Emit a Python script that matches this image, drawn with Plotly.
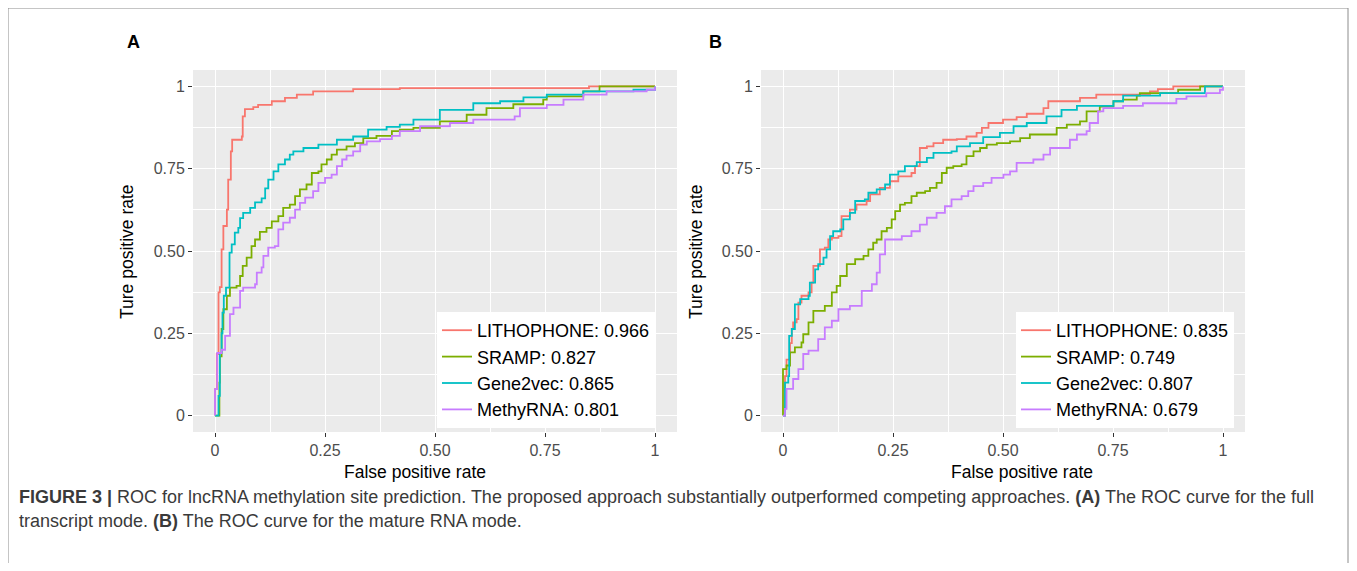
import plotly.graph_objects as go

# ---------------- data ----------------
MODELS = ["LITHOPHONE", "SRAMP", "Gene2vec", "MethyRNA"]
AUC_A = ["0.966", "0.827", "0.865", "0.801"]
AUC_B = ["0.835", "0.749", "0.807", "0.679"]
COLORS = ["#F8766D", "#7CAE00", "#00BFC4", "#C77CFF"]

TICK_VALS = [0, 0.25, 0.5, 0.75, 1]
TICK_TEXT = ["0", "0.25", "0.50", "0.75", "1"]

# Panel A: full transcript mode
A_LITHOPHONE_FPR = [0, 0, 0.004, 0.008, 0.011, 0.015, 0.019, 0.027, 0.030, 0.036, 0.039, 0.061, 0.063, 0.068, 0.087, 0.098, 0.129, 0.159, 0.186, 0.223, 0.314, 0.42, 0.85, 1]
A_LITHOPHONE_TPR = [0, 0.08, 0.187, 0.374, 0.39, 0.505, 0.576, 0.626, 0.717, 0.803, 0.838, 0.848, 0.909, 0.931, 0.937, 0.944, 0.955, 0.965, 0.975, 0.985, 0.992, 0.995, 1.0, 1.0]

A_SRAMP_FPR = [0, 0.010, 0.011, 0.015, 0.019, 0.027, 0.034, 0.049, 0.057, 0.063, 0.072, 0.083, 0.091, 0.102, 0.117, 0.129, 0.144, 0.155, 0.170, 0.182, 0.193, 0.208, 0.220, 0.235, 0.242, 0.254, 0.265, 0.277, 0.299, 0.318, 0.337, 0.367, 0.402, 0.420, 0.451, 0.511, 0.572, 0.617, 0.678, 0.746, 0.754, 0.837, 0.874, 1.0]
A_SRAMP_TPR = [0, 0.10, 0.18, 0.263, 0.323, 0.364, 0.389, 0.394, 0.424, 0.455, 0.48, 0.515, 0.535, 0.558, 0.57, 0.59, 0.606, 0.631, 0.641, 0.667, 0.687, 0.702, 0.737, 0.742, 0.763, 0.778, 0.793, 0.808, 0.818, 0.828, 0.843, 0.85, 0.864, 0.869, 0.874, 0.894, 0.914, 0.934, 0.946, 0.960, 0.970, 0.985, 1.0, 1.0]

A_GENE2VEC_FPR = [0, 0.008, 0.011, 0.015, 0.017, 0.020, 0.025, 0.033, 0.038, 0.045, 0.053, 0.057, 0.064, 0.080, 0.091, 0.106, 0.114, 0.121, 0.133, 0.144, 0.159, 0.170, 0.178, 0.201, 0.235, 0.277, 0.314, 0.348, 0.390, 0.420, 0.451, 0.511, 0.587, 0.648, 0.701, 0.754, 0.837, 0.951, 1.0]
A_GENE2VEC_TPR = [0, 0.06, 0.19, 0.25, 0.313, 0.364, 0.389, 0.495, 0.52, 0.556, 0.57, 0.60, 0.616, 0.631, 0.648, 0.66, 0.69, 0.717, 0.742, 0.763, 0.778, 0.793, 0.803, 0.813, 0.823, 0.838, 0.848, 0.869, 0.877, 0.884, 0.899, 0.929, 0.949, 0.955, 0.967, 0.975, 0.985, 0.99, 1.0]

A_METHYRNA_FPR = [0, 0, 0.005, 0.015, 0.023, 0.034, 0.042, 0.057, 0.064, 0.091, 0.095, 0.106, 0.110, 0.121, 0.136, 0.144, 0.155, 0.170, 0.182, 0.193, 0.205, 0.223, 0.235, 0.250, 0.265, 0.277, 0.289, 0.299, 0.314, 0.330, 0.345, 0.375, 0.402, 0.420, 0.466, 0.534, 0.587, 0.681, 0.693, 0.754, 0.792, 0.837, 0.890, 0.981, 1.0]
A_METHYRNA_TPR = [0, 0.08, 0.19, 0.20, 0.242, 0.308, 0.328, 0.379, 0.389, 0.399, 0.434, 0.45, 0.485, 0.51, 0.515, 0.566, 0.586, 0.601, 0.626, 0.646, 0.662, 0.682, 0.707, 0.722, 0.732, 0.758, 0.778, 0.79, 0.803, 0.823, 0.833, 0.84, 0.85, 0.864, 0.879, 0.889, 0.899, 0.909, 0.934, 0.944, 0.960, 0.975, 0.985, 0.990, 1.0]

# Panel B: mature RNA mode
B_LITHOPHONE_FPR = [0, 0.0045, 0.008, 0.016, 0.020, 0.023, 0.031, 0.035, 0.042, 0.058, 0.065, 0.069, 0.084, 0.095, 0.103, 0.111, 0.126, 0.133, 0.152, 0.167, 0.190, 0.198, 0.220, 0.243, 0.262, 0.292, 0.300, 0.311, 0.327, 0.342, 0.364, 0.395, 0.417, 0.440, 0.452, 0.467, 0.500, 0.531, 0.554, 0.592, 0.603, 0.675, 0.712, 0.834, 0.852, 0.887, 1.0]
B_LITHOPHONE_TPR = [0, 0.12, 0.17, 0.22, 0.263, 0.283, 0.293, 0.343, 0.364, 0.374, 0.404, 0.455, 0.505, 0.51, 0.535, 0.54, 0.545, 0.606, 0.626, 0.641, 0.652, 0.672, 0.692, 0.712, 0.727, 0.737, 0.758, 0.813, 0.818, 0.828, 0.838, 0.84, 0.848, 0.859, 0.874, 0.889, 0.899, 0.907, 0.917, 0.934, 0.955, 0.965, 0.975, 0.985, 0.992, 1.0, 1.0]

B_SRAMP_FPR = [0, 0, 0.008, 0.016, 0.027, 0.042, 0.046, 0.058, 0.069, 0.095, 0.111, 0.122, 0.130, 0.145, 0.164, 0.183, 0.194, 0.205, 0.213, 0.224, 0.236, 0.247, 0.255, 0.266, 0.277, 0.292, 0.304, 0.323, 0.334, 0.349, 0.361, 0.372, 0.387, 0.406, 0.417, 0.433, 0.448, 0.463, 0.486, 0.516, 0.539, 0.561, 0.622, 0.645, 0.675, 0.690, 0.720, 0.751, 0.773, 0.804, 0.811, 0.898, 0.948, 1.0]
B_SRAMP_TPR = [0, 0.141, 0.152, 0.192, 0.207, 0.222, 0.247, 0.283, 0.318, 0.333, 0.374, 0.394, 0.424, 0.46, 0.475, 0.485, 0.505, 0.525, 0.535, 0.56, 0.57, 0.596, 0.621, 0.641, 0.646, 0.667, 0.677, 0.682, 0.692, 0.707, 0.737, 0.753, 0.758, 0.763, 0.788, 0.803, 0.813, 0.823, 0.828, 0.833, 0.843, 0.854, 0.874, 0.884, 0.894, 0.924, 0.939, 0.955, 0.96, 0.972, 0.98, 0.99, 1.0, 1.0]

B_GENE2VEC_FPR = [0, 0.0045, 0.012, 0.014, 0.020, 0.027, 0.039, 0.058, 0.061, 0.073, 0.080, 0.092, 0.099, 0.107, 0.114, 0.130, 0.137, 0.152, 0.164, 0.186, 0.194, 0.213, 0.232, 0.243, 0.262, 0.277, 0.304, 0.327, 0.342, 0.383, 0.395, 0.425, 0.455, 0.493, 0.524, 0.554, 0.599, 0.633, 0.668, 0.751, 0.773, 0.857, 0.959, 0.959, 1.0]
B_GENE2VEC_TPR = [0, 0.10, 0.12, 0.242, 0.263, 0.338, 0.354, 0.364, 0.404, 0.444, 0.46, 0.48, 0.505, 0.545, 0.56, 0.566, 0.596, 0.616, 0.652, 0.657, 0.677, 0.687, 0.702, 0.732, 0.742, 0.758, 0.77, 0.783, 0.798, 0.803, 0.818, 0.828, 0.846, 0.859, 0.879, 0.889, 0.909, 0.929, 0.941, 0.955, 0.972, 0.98, 0.988, 1.0, 1.0]

B_METHYRNA_FPR = [0, 0.0045, 0.008, 0.023, 0.035, 0.046, 0.058, 0.080, 0.095, 0.111, 0.126, 0.152, 0.179, 0.202, 0.213, 0.220, 0.232, 0.270, 0.292, 0.311, 0.327, 0.349, 0.368, 0.383, 0.406, 0.421, 0.433, 0.455, 0.474, 0.501, 0.516, 0.531, 0.569, 0.592, 0.607, 0.652, 0.668, 0.690, 0.697, 0.716, 0.728, 0.773, 0.818, 0.894, 0.917, 0.962, 0.993, 1.0]
B_METHYRNA_TPR = [0, 0.02, 0.081, 0.111, 0.141, 0.187, 0.197, 0.232, 0.268, 0.288, 0.323, 0.333, 0.379, 0.399, 0.434, 0.49, 0.535, 0.545, 0.56, 0.58, 0.601, 0.616, 0.636, 0.657, 0.667, 0.682, 0.697, 0.707, 0.722, 0.732, 0.742, 0.768, 0.778, 0.793, 0.813, 0.838, 0.854, 0.864, 0.889, 0.924, 0.934, 0.941, 0.949, 0.962, 0.97, 0.98, 0.99, 1.0]

CAPTION_1 = ("<b>FIGURE 3 |</b> ROC for lncRNA methylation site prediction. The proposed approach "
             "substantially outperformed competing approaches. <b>(A)</b> The ROC curve for the full")
CAPTION_2 = "transcript mode. <b>(B)</b> The ROC curve for the mature RNA mode."

PANEL_A = [(A_LITHOPHONE_FPR, A_LITHOPHONE_TPR), (A_SRAMP_FPR, A_SRAMP_TPR),
           (A_GENE2VEC_FPR, A_GENE2VEC_TPR), (A_METHYRNA_FPR, A_METHYRNA_TPR)]
PANEL_B = [(B_LITHOPHONE_FPR, B_LITHOPHONE_TPR), (B_SRAMP_FPR, B_SRAMP_TPR),
           (B_GENE2VEC_FPR, B_GENE2VEC_TPR), (B_METHYRNA_FPR, B_METHYRNA_TPR)]

# ---------------- figure ----------------
# The page body adds an 8px margin; size the figure so no scrollbars appear.
OFF = 8
W, H = 1349, 555
FONT = "Liberation Sans, Arial, sans-serif"


def px(x):
    return (x - OFF) / W


def py(y):
    return 1 - (y - OFF) / H


fig = go.Figure()

for panel, aucs, xa, ya, leg in [(PANEL_A, AUC_A, "x", "y", "legend"),
                                  (PANEL_B, AUC_B, "x2", "y2", "legend2")]:
    for (fpr, tpr), name, auc, col in zip(panel, MODELS, aucs, COLORS):
        fig.add_trace(go.Scatter(
            x=fpr, y=tpr, mode="lines", line=dict(color=col, width=1.8, shape="hv"),
            name=f"{name}: {auc}", xaxis=xa, yaxis=ya, legend=leg, hoverinfo="skip"))

axis_common = dict(
    range=[-0.05, 1.05], showgrid=True, gridcolor="white", gridwidth=1.3,
    zeroline=False, showline=False, ticks="outside", ticklen=4, tickwidth=1,
    tickcolor="#333333", tickvals=TICK_VALS, ticktext=TICK_TEXT,
    tickfont=dict(family=FONT, size=16, color="#4D4D4D"),
    minor=dict(tickvals=[0.125, 0.375, 0.625, 0.875], showgrid=True,
               gridcolor="white", gridwidth=0.6, ticks=""),
    fixedrange=True,
)

ydom = [py(432), py(70)]
legend_common = dict(yanchor="top", xanchor="left", bgcolor="white",
                     font=dict(family=FONT, size=18, color="black"),
                     itemwidth=30, tracegroupgap=0)
fig.update_layout(
    width=W, height=H, margin=dict(l=0, r=0, t=0, b=0),
    paper_bgcolor="white", plot_bgcolor="#EBEBEB",
    showlegend=True,
    xaxis=dict(domain=[px(193), px(677)], anchor="y", **axis_common),
    yaxis=dict(domain=ydom, anchor="x", **axis_common),
    xaxis2=dict(domain=[px(761), px(1245)], anchor="y2", **axis_common),
    yaxis2=dict(domain=ydom, anchor="x2", **axis_common),
    legend=dict(x=px(437), y=py(312), **legend_common),
    legend2=dict(x=px(1016), y=py(312), **legend_common),
)

annotations = [
    dict(text="<b>A</b>", x=px(133), y=py(42), font=dict(family=FONT, size=18, color="black")),
    dict(text="<b>B</b>", x=px(716), y=py(42), font=dict(family=FONT, size=18, color="black")),
    dict(text="False positive rate", x=px(415), y=py(472), font=dict(family=FONT, size=17.5, color="black")),
    dict(text="False positive rate", x=px(1022), y=py(472), font=dict(family=FONT, size=17.5, color="black")),
    dict(text="Ture positive rate", x=px(127), y=py(252), textangle=-90, font=dict(family=FONT, size=17.5, color="black")),
    dict(text="Ture positive rate", x=px(696), y=py(252), textangle=-90, font=dict(family=FONT, size=17.5, color="black")),
]
for a in annotations:
    a.update(xref="paper", yref="paper", showarrow=False, xanchor="center", yanchor="middle")
    fig.add_annotation(**a)

fig.add_annotation(text=CAPTION_1, x=px(17), y=py(497), xref="paper", yref="paper",
                   showarrow=False, xanchor="left", yanchor="middle", align="left",
                   font=dict(family=FONT, size=18, color="#3A3A3A"))
fig.add_annotation(text=CAPTION_2, x=px(17), y=py(521), xref="paper", yref="paper",
                   showarrow=False, xanchor="left", yanchor="middle", align="left",
                   font=dict(family=FONT, size=18, color="#3A3A3A"))

# outer frame of the figure (left, top and right edges; bottom runs past the page)
fig.add_shape(type="rect", xref="paper", yref="paper", x0=px(8), x1=px(1348), y0=-0.2, y1=py(8),
              line=dict(color="#8C8C8C", width=1), layer="above")

fig.write_html("out.html")
